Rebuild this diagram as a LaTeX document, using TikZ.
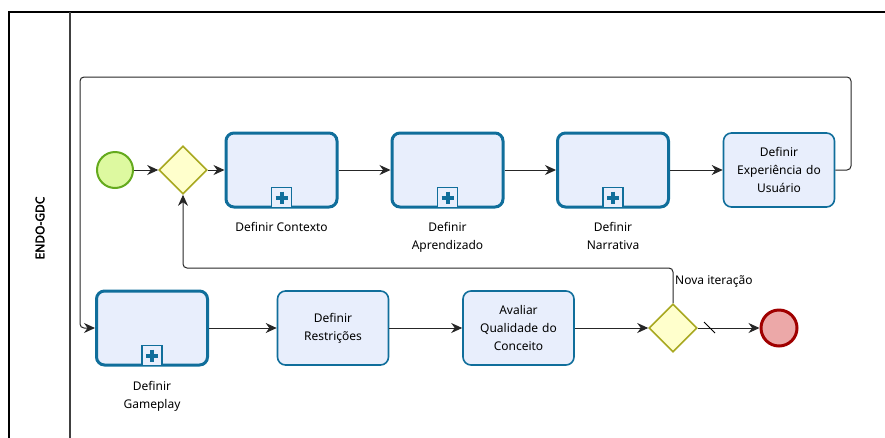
\documentclass[tikz,border=0pt]{standalone}
\usepackage{fontspec}
\setmainfont{Noto Sans}
\newfontfamily\negrito{Noto Sans}[FakeBold=2.5]
\usepackage{tikz}
\usetikzlibrary{shapes.geometric, arrows.meta, positioning}
\usepackage{xcolor}
\definecolor{inicioborda}{RGB}{100,170,30}
\definecolor{iniciofundo}{RGB}{221,249,160}
\definecolor{gatborda}{RGB}{168,168,32}
\definecolor{gatfundo}{RGB}{255,255,204}
\definecolor{tarefaborda}{RGB}{16,110,155}
\definecolor{tarefafundo}{RGB}{232,238,252}
\definecolor{fimborda}{RGB}{160,0,0}
\definecolor{fimfundo}{RGB}{236,168,168}

\begin{document}
\begin{tikzpicture}[x=1pt, y=-1pt,
    font=\fontsize{12}{18}\selectfont,
    fluxo/.style={draw=black!85, line width=1pt, -{Stealth[length=11pt, width=10pt]}},
    tarefa/.style={rectangle, rounded corners=8pt, draw=tarefaborda, fill=tarefafundo,
        line width=1.6pt, minimum width=111pt, minimum height=74pt,
        text width=104pt, align=center},
    subprocesso/.style={tarefa, line width=3pt},
    rotulo/.style={align=center, inner sep=1pt},
    gateway/.style={diamond, draw=gatborda, fill=gatfundo, line width=1.6pt,
        minimum size=48pt, inner sep=0pt},
    evento/.style={circle, minimum size=36pt, inner sep=0pt, line width=2pt}]
    \useasboundingbox (0,0) rectangle (885,437);
    % Piscina e raia
    \draw[line width=1.2pt] (9,450) -- (9,12) -- (900,12);
    \draw[line width=1.2pt, black!75] (70,12) -- (70,450);
    \node[rotate=90, font=\fontsize{12}{14}\negrito] (raia) at (40,228) {ENDO-GDC};
    % Primeira linha
    \node[evento, draw=inicioborda, fill=iniciofundo] (inicio) at (115,170) {};
    \node[gateway] (gat1) at (183,170) {};
    \node[subprocesso] (contexto) at (281.5,170) {};
    \node[subprocesso] (aprendizado) at (447.5,170) {};
    \node[subprocesso] (narrativa) at (613,170) {};
    \node[tarefa] (experiencia) at (779,170) {Definir\\Experiência do\\Usuário};
    \node[rotulo, below=13pt of contexto] (lcontexto) {Definir Contexto};
    \node[rotulo, below=13pt of aprendizado] (laprendizado) {Definir\\Aprendizado};
    \node[rotulo, below=13pt of narrativa] (lnarrativa) {Definir\\Narrativa};
    % Segunda linha
    \node[subprocesso] (gameplay) at (152,328) {};
    \node[rotulo, below=14pt of gameplay] (lgameplay) {Definir\\Gameplay};
    \node[tarefa] (restricoes) at (333,328) {Definir\\Restrições};
    \node[tarefa] (avaliar) at (518.5,328) {Avaliar\\Qualidade do\\Conceito};
    \node[gateway] (gat2) at (673,328) {};
    \node[evento, draw=fimborda, fill=fimfundo, line width=3pt] (fim) at (779,328) {};
    % Marcadores de subprocesso
    \foreach \t in {contexto, aprendizado, narrativa, gameplay} {
        \draw[tarefaborda, line width=1.5pt, fill=tarefafundo]
            ([shift={(-10,-21)}]\t.south) rectangle ([shift={(10,-1)}]\t.south);
        \draw[tarefaborda, line width=4pt]
            ([shift={(-6,-11)}]\t.south) -- ([shift={(6,-11)}]\t.south)
            ([shift={(0,-17)}]\t.south) -- ([shift={(0,-5)}]\t.south);
    }
    % Fluxos
    \coordinate (vsup) at (851,77);
    \coordinate (esup) at (80,77);
    \coordinate (iter) at (673,268);
    \draw[fluxo] (inicio) -- (gat1);
    \draw[fluxo] (gat1) -- (contexto);
    \draw[fluxo] (contexto) -- (aprendizado);
    \draw[fluxo] (aprendizado) -- (narrativa);
    \draw[fluxo] (narrativa) -- (experiencia);
    \draw[fluxo, rounded corners=4pt] (experiencia.east) -| (vsup) -- (esup) |- (gameplay.west);
    \draw[fluxo] (gameplay) -- (restricoes);
    \draw[fluxo] (restricoes) -- (avaliar);
    \draw[fluxo] (avaliar) -- (gat2);
    \draw[fluxo] (gat2) -- (fim);
    \draw[fluxo, rounded corners=4pt] (gat2.north) -- (iter) -| (gat1.south);
    \node[anchor=west, inner sep=1pt] (liter) at (674,282) {Nova iteração};
    % Fluxo padrão
    \draw[line width=1pt] ([shift={(31,-6)}]gat2.center) -- ([shift={(42,5)}]gat2.center);
\end{tikzpicture}
\end{document}
